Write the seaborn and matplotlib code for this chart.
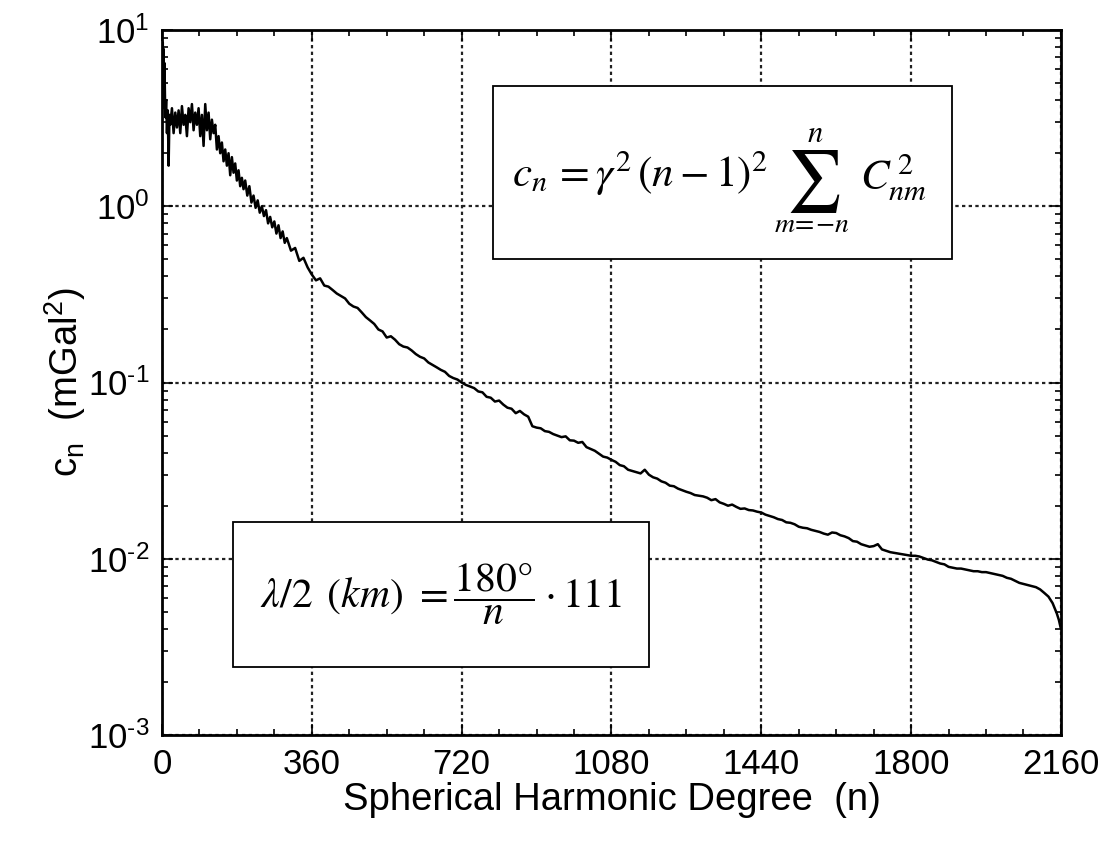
import numpy as np
import pandas as pd
import matplotlib
matplotlib.use("Agg")
import matplotlib.pyplot as plt
from matplotlib.ticker import MultipleLocator, LogLocator, NullFormatter
from matplotlib.patches import Rectangle
import seaborn as sns

# degree-variance spectrum, in three stretches
deg_low = [2, 3, 4, 5, 6, 8, 10, 12, 14, 16, 18, 20, 24, 28, 32, 36, 40, 44, 48, 52,
           56, 60, 64, 68, 72, 76, 80, 84, 88, 92, 96, 100, 104, 108, 112, 116, 120, 124,
           128, 132, 136, 140, 144, 148, 152, 156, 160, 164, 168, 172, 176, 180, 184, 188,
           192, 196, 200, 205, 210, 215, 220, 225, 230, 235, 240, 245, 250, 255, 260, 265,
           270, 275, 280, 285, 290, 295, 300, 310, 320, 330, 340, 350, 360, 370, 380, 390,
           400, 410, 420, 430, 440, 450, 460, 470, 480, 490, 500, 510, 520, 530, 540, 550,
           560, 570, 580, 590, 600, 610, 620, 630, 640, 650, 660, 670, 680, 690, 700, 710]
cn_low = [8.5, 5.0, 7.8, 3.6, 6.5, 3.2, 4.0, 2.6, 3.5, 1.7, 3.3, 2.9, 3.6, 2.6, 3.4, 2.8,
          3.5, 2.6, 3.7, 2.9, 3.3, 2.5, 3.6, 3.0, 3.8, 2.7, 3.4, 2.9, 3.6, 2.5, 3.3, 2.2,
          3.8, 2.7, 3.4, 2.4, 3.1, 2.6, 2.9, 2.1, 2.5, 2.0, 2.3, 1.8, 2.1, 1.7, 2.0, 1.5,
          1.9, 1.55, 1.75, 1.4, 1.6, 1.3, 1.45, 1.25, 1.4, 1.15, 1.3, 1.05, 1.15, 0.98,
          1.08, 0.92, 1.0, 0.88, 0.95, 0.8, 0.87, 0.76, 0.82, 0.7, 0.78, 0.66, 0.72, 0.62,
          0.66, 0.56, 0.58, 0.49, 0.51, 0.45, 0.41, 0.38, 0.39, 0.355, 0.35, 0.335, 0.32,
          0.31, 0.30, 0.28, 0.27, 0.265, 0.25, 0.235, 0.225, 0.215, 0.20, 0.195, 0.18,
          0.183, 0.175, 0.165, 0.16, 0.158, 0.152, 0.145, 0.14, 0.137, 0.13, 0.126, 0.122,
          0.118, 0.115, 0.109, 0.106, 0.104]

deg_mid = [720, 730, 740, 750, 760, 770, 780, 790, 800, 810, 820, 830, 840, 850, 860,
           870, 880, 890, 900, 910, 920, 930, 940, 950, 960, 970, 980, 990, 1000, 1010,
           1020, 1030, 1040, 1050, 1060, 1070, 1080, 1090, 1100, 1110, 1120, 1130, 1140,
           1150, 1160, 1170, 1180, 1190, 1200, 1210, 1220, 1230, 1240, 1250, 1260, 1270,
           1280, 1290]
cn_mid = [0.100, 0.097, 0.095, 0.093, 0.089, 0.088, 0.083, 0.082, 0.078, 0.079, 0.075,
          0.072, 0.071, 0.067, 0.069, 0.066, 0.064, 0.0565, 0.0555, 0.055, 0.053, 0.0525,
          0.051, 0.050, 0.049, 0.0495, 0.047, 0.0468, 0.0455, 0.046, 0.043, 0.042, 0.041,
          0.0395, 0.038, 0.0375, 0.0364, 0.0355, 0.034, 0.0335, 0.032, 0.0315, 0.031,
          0.0305, 0.032, 0.030, 0.029, 0.0285, 0.0275, 0.027, 0.026, 0.0258, 0.025,
          0.0245, 0.024, 0.0236, 0.023, 0.0228]

deg_high = [1300, 1310, 1320, 1330, 1340, 1350, 1360, 1370, 1380, 1390, 1400, 1410, 1420,
            1430, 1440, 1450, 1460, 1470, 1480, 1490, 1500, 1510, 1520, 1530, 1540, 1550,
            1560, 1570, 1580, 1590, 1600, 1610, 1620, 1630, 1640, 1650, 1660, 1670, 1680,
            1690, 1700, 1710, 1720, 1730, 1740, 1750, 1760, 1770, 1780, 1790, 1800, 1810,
            1820, 1830, 1840, 1850, 1860, 1870, 1880, 1890, 1900, 1910, 1920, 1930, 1940,
            1950, 1960, 1970, 1980, 1990, 2000, 2010, 2020, 2030, 2040, 2050, 2060, 2070,
            2080, 2090, 2100, 2110, 2120, 2130, 2140, 2150, 2155, 2160]
cn_high = [0.0226, 0.0222, 0.0215, 0.0218, 0.0209, 0.0205, 0.0200, 0.0203, 0.0197, 0.0192,
           0.0193, 0.0189, 0.0188, 0.0185, 0.0183, 0.0178, 0.0175, 0.0172, 0.0168, 0.0166,
           0.0161, 0.0160, 0.0157, 0.0152, 0.0150, 0.0149, 0.0146, 0.0144, 0.0142, 0.0139,
           0.0137, 0.0141, 0.0140, 0.0136, 0.0134, 0.0131, 0.0126, 0.0125, 0.0121, 0.0119,
           0.0117, 0.0118, 0.0121, 0.0113, 0.0111, 0.0109, 0.0108, 0.0107, 0.0106, 0.0105,
           0.0104, 0.0104, 0.0103, 0.0101, 0.0099, 0.0098, 0.0096, 0.0094, 0.0093, 0.0090,
           0.0089, 0.0088, 0.0088, 0.0087, 0.0086, 0.0085, 0.0085, 0.0084, 0.0084, 0.0083,
           0.0082, 0.0081, 0.0080, 0.0078, 0.0077, 0.0075, 0.0073, 0.0072, 0.0071, 0.0070,
           0.0069, 0.0067, 0.0064, 0.0061, 0.0056, 0.0049, 0.0045, 0.0040]

x_ticks = [0, 360, 720, 1080, 1440, 1800, 2160]
y_ticks = [1e-3, 1e-2, 1e-1, 1e0, 1e1]
y_labels = [r"10$^{\text{-3}}$", r"10$^{\text{-2}}$", r"10$^{\text{-1}}$",
            r"10$^{\text{0}}$", r"10$^{\text{1}}$"]

df = pd.DataFrame({"n": deg_low + deg_mid + deg_high,
                   "cn": cn_low + cn_mid + cn_high})

sns.set_style("ticks")
plt.rcParams["font.family"] = ["Liberation Sans", "DejaVu Sans"]
plt.rcParams["mathtext.fontset"] = "custom"
plt.rcParams["mathtext.rm"] = "Liberation Sans"
plt.rcParams["mathtext.it"] = "Liberation Sans:italic"
plt.rcParams["text.color"] = "black"
plt.rcParams["axes.labelcolor"] = "black"
plt.rcParams["xtick.color"] = "black"
plt.rcParams["ytick.color"] = "black"

fig = plt.figure(figsize=(11.04, 8.41), dpi=100)
ax = fig.add_axes([0.1467, 0.126, 0.8143, 0.8383])

sns.lineplot(data=df, x="n", y="cn", color="black", lw=1.8, ax=ax, zorder=3)
ax.set_yscale("log")
ax.set_xlim(0, 2160)
ax.set_ylim(1e-3, 1e1)

ax.set_xticks(x_ticks)
ax.set_xticklabels([str(t) for t in x_ticks])
ax.xaxis.set_minor_locator(MultipleLocator(90))
ax.set_yticks(y_ticks)
ax.set_yticklabels(y_labels)
ax.yaxis.set_minor_locator(LogLocator(base=10, subs=np.arange(2, 10)))
ax.yaxis.set_minor_formatter(NullFormatter())

ax.tick_params(which="both", direction="in", top=True, right=True, labelsize=25, width=1.2)
ax.tick_params(which="major", length=8, pad=9)
ax.tick_params(which="minor", length=4)
for s in ax.spines.values():
    s.set_linewidth(2)
    s.set_color("black")

ax.grid(True, which="major", ls=(0, (1.5, 1.5)), color="#222222", lw=1.6)
ax.set_axisbelow(True)

ax.set_xlabel("Spherical Harmonic Degree  (n)", fontsize=27.5, labelpad=1)
ax.set_ylabel(r"c$_{\mathregular{n}}$  (mGal$^{\mathregular{2}}$)", fontsize=27.5)
ax.yaxis.set_label_coords(-0.082, 0.5)

# formula box: degree variance
ax.add_patch(Rectangle((0.368, 0.675), 0.511, 0.2456, transform=ax.transAxes,
                       facecolor="white", edgecolor="black", lw=1.3, zorder=4))
kw = dict(transform=ax.transAxes, math_fontfamily="stix", zorder=5)
ax.text(0.6741, 0.7773, r"$c_n\, = \gamma^2\,(n-1)^2$", ha="right", va="baseline",
        fontsize=31, **kw)
ax.text(0.7241, 0.7858, r"$\sum$", ha="center", va="center", fontsize=44, **kw)
ax.text(0.7264, 0.8411, r"$n$", ha="center", va="baseline", fontsize=22, **kw)
ax.text(0.7230, 0.7135, r"$m\!=\!\!-\!n$", ha="center", va="baseline", fontsize=20, **kw)
ax.text(0.7764, 0.7730, r"$C_{nm}^{\,2}$", ha="left", va="baseline", fontsize=31, **kw)

# formula box: half wavelength
ax.add_patch(Rectangle((0.079, 0.0965), 0.4627, 0.2055, transform=ax.transAxes,
                       facecolor="white", edgecolor="black", lw=1.3, zorder=4))
ax.text(0.31, 0.199, r"$\lambda/2\ \,(km)\ = \dfrac{180\degree}{n}\cdot 111$",
        ha="center", va="center", fontsize=30, **kw)

fig.savefig("out.png", dpi=100)
